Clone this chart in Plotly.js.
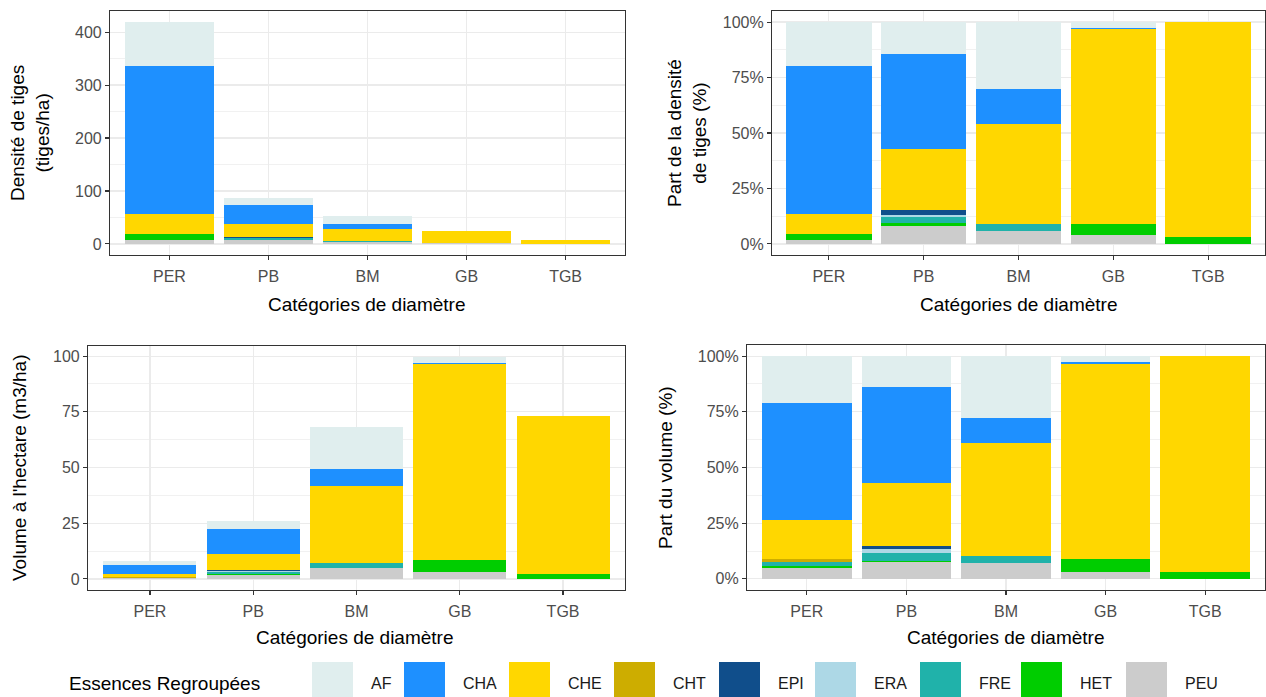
<!DOCTYPE html>
<html>
<head>
<meta charset="utf-8">
<script src="https://cdn.plot.ly/plotly-3.0.1.min.js"></script>
<style>html,body{margin:0;padding:0;background:#fff;}#chart{width:1266px;height:697px;}</style>
</head>
<body>
<div id="chart"></div>
<script>
// ---------- DATA ----------
const categories = ['PER', 'PB', 'BM', 'GB', 'TGB'];
const species = ['AF', 'CHA', 'CHE', 'CHT', 'EPI', 'ERA', 'FRE', 'HET', 'PEU'];

// Densité de tiges (tiges/ha) par essence, dans l'ordre des catégories
const densAF  = [82, 12.6, 16.0, 0.7, 0];
const densCHA = [280, 37.0, 8.4, 0.13, 0];
const densCHE = [38, 24.2, 24.0, 22.0, 7.7];
const densCHT = [0, 0, 0, 0, 0];
const densEPI = [0, 1.7, 0, 0, 0];
const densERA = [0, 1.0, 0, 0, 0];
const densFRE = [1, 2.3, 1.6, 0, 0];
const densHET = [10, 1.0, 0.1, 1.2, 0.26];
const densPEU = [8, 7.1, 3.1, 1.0, 0];

// Volume à l'hectare (m3/ha) par essence
const volAF  = [1.71, 3.6, 18.9, 2.8, 0];
const volCHA = [4.24, 11.2, 7.6, 0.5, 0];
const volCHE = [1.43, 7.36, 34.5, 87.6, 70.6];
const volCHT = [0.10, 0, 0, 0, 0];
const volEPI = [0, 0.39, 0, 0, 0];
const volERA = [0, 0.47, 0, 0, 0];
const volFRE = [0.17, 0.83, 2.18, 0, 0];
const volHET = [0.05, 0.16, 0.1, 5.38, 2.4];
const volPEU = [0.40, 1.98, 4.76, 3.29, 0];

// ---------- STYLE ----------
const colors = {
  AF: '#E0EEEE', CHA: '#1E90FF', CHE: '#FFD700', CHT: '#CDAD00', EPI: '#104E8B',
  ERA: '#ADD8E6', FRE: '#20B2AA', HET: '#00CD00', PEU: '#CCCCCC'
};
const dens = {AF: densAF, CHA: densCHA, CHE: densCHE, CHT: densCHT, EPI: densEPI, ERA: densERA, FRE: densFRE, HET: densHET, PEU: densPEU};
const vol = {AF: volAF, CHA: volCHA, CHE: volCHE, CHT: volCHT, EPI: volEPI, ERA: volERA, FRE: volFRE, HET: volHET, PEU: volPEU};

function totals(src) {
  return categories.map((c, i) => species.reduce((s, sp) => s + src[sp][i], 0));
}
function percents(src) {
  const t = totals(src);
  const out = {};
  species.forEach(sp => { out[sp] = src[sp].map((v, i) => v / t[i] * 100); });
  return out;
}

const W = 1266, H = 697;
const px = x => x / W;
const py = y => 1 - y / H;

const panels = [
  {src: dens, xa: 'x', ya: 'y'},
  {src: percents(dens), xa: 'x2', ya: 'y2'},
  {src: vol, xa: 'x3', ya: 'y3'},
  {src: percents(vol), xa: 'x4', ya: 'y4'}
];

const traces = [];
panels.forEach(p => {
  species.slice().reverse().forEach(sp => {
    traces.push({
      type: 'bar', name: sp, x: categories, y: p.src[sp],
      xaxis: p.xa, yaxis: p.ya,
      marker: {color: colors[sp], line: {width: 0}},
      showlegend: false, hoverinfo: 'x+y+name'
    });
  });
});

const tickFont = {family: 'Liberation Sans, Arial, sans-serif', size: 16, color: '#4D4D4D'};
const titleFont = {family: 'Liberation Sans, Arial, sans-serif', size: 19, color: '#000000'};

function xAxis(domPx, anchor) {
  return {
    domain: [px(domPx[0]), px(domPx[1])], anchor: anchor,
    type: 'category', categoryorder: 'array', categoryarray: categories,
    range: [-0.6, 4.6], fixedrange: true,
    showgrid: true, gridcolor: '#EBEBEB', gridwidth: 1.2,
    ticks: 'outside', ticklen: 4, tickwidth: 1.1, tickcolor: '#333333',
    ticklabelstandoff: 3,
    showline: true, mirror: true, linecolor: '#333333', linewidth: 1.1,
    zeroline: false, tickfont: tickFont, automargin: false
  };
}
function yAxis(domPx, anchor, max, dtick, suffix) {
  const vals = [];
  for (let v = 0; v <= max + 1e-9; v += dtick) vals.push(v);
  return {
    domain: [py(domPx[1]), py(domPx[0])], anchor: anchor,
    range: [-0.05 * max, 1.05 * max], fixedrange: true,
    tickmode: 'array', tickvals: vals, ticktext: vals.map(v => v + (suffix || '')),
    showgrid: true, gridcolor: '#EBEBEB', gridwidth: 1.2,
    minor: {showgrid: true, gridcolor: '#EBEBEB', gridwidth: 0.7, tick0: 0, dtick: dtick / 2, ticks: ''},
    ticks: 'outside', ticklen: 4, tickwidth: 1.1, tickcolor: '#333333',
    showline: true, mirror: true, linecolor: '#333333', linewidth: 1.1,
    zeroline: false, tickfont: tickFont, automargin: false
  };
}

const maxDens = Math.max(...totals(dens));
const maxVol = Math.max(...totals(vol));

const annotations = [];
function ann(text, x, y, angle, font, xanchor) {
  annotations.push({
    text: text, xref: 'paper', yref: 'paper', x: px(x), y: py(y),
    xanchor: xanchor || 'center', yanchor: 'middle', showarrow: false,
    textangle: angle || 0, font: font, align: 'center'
  });
}
// axis titles
ann('Densité de tiges<br>(tiges/ha)', 30, 133, -90, titleFont);
ann('Part de la densité<br>de tiges (%)', 687, 133, -90, titleFont);
ann("Volume à l'hectare (m3/ha)", 19, 468, -90, titleFont);
ann('Part du volume (%)', 665, 468, -90, titleFont);
ann('Catégories de diamètre', 367, 304, 0, titleFont);
ann('Catégories de diamètre', 1019, 304, 0, titleFont);
ann('Catégories de diamètre', 355, 637, 0, titleFont);
ann('Catégories de diamètre', 1006, 637, 0, titleFont);

// legend (drawn manually to match ggplot keys)
ann('Essences Regroupées', 67, 683, 0, titleFont, 'left');
const legendKeyLeft = [312, 404, 509, 614, 719, 815, 920, 1021, 1126];
const shapes = [];
species.forEach((sp, i) => {
  const x0 = legendKeyLeft[i];
  shapes.push({
    type: 'rect', xref: 'paper', yref: 'paper',
    x0: px(x0), x1: px(x0 + 41), y0: py(702), y1: py(662),
    fillcolor: colors[sp], line: {width: 0}, layer: 'above'
  });
  ann(sp, x0 + 57, 683, 0, {family: 'Liberation Sans, Arial, sans-serif', size: 16, color: '#1A1A1A'}, 'left');
});

const layout = {
  width: W, height: H,
  margin: {l: 0, r: 0, t: 0, b: 0, pad: 0},
  paper_bgcolor: '#FFFFFF', plot_bgcolor: '#FFFFFF',
  barmode: 'stack', bargap: 0.1,
  showlegend: false,
  font: {family: 'Liberation Sans, Arial, sans-serif'},
  xaxis: xAxis([110, 625], 'y'),
  yaxis: yAxis([11, 255], 'x', maxDens, 100, ''),
  xaxis2: xAxis([772, 1265], 'y2'),
  yaxis2: yAxis([11, 255], 'x2', 100, 25, '%'),
  xaxis3: xAxis([88, 625], 'y3'),
  yaxis3: yAxis([346, 590], 'x3', maxVol, 25, ''),
  xaxis4: xAxis([747, 1265], 'y4'),
  yaxis4: yAxis([345, 590], 'x4', 100, 25, '%'),
  annotations: annotations,
  shapes: shapes
};
// fixed major ticks as in the reference
layout.yaxis.tickvals = [0, 100, 200, 300, 400];
layout.yaxis.ticktext = ['0', '100', '200', '300', '400'];
layout.yaxis3.tickvals = [0, 25, 50, 75, 100];
layout.yaxis3.ticktext = ['0', '25', '50', '75', '100'];

Plotly.newPlot('chart', traces, layout, {staticPlot: true, displayModeBar: false});
</script>
</body>
</html>
